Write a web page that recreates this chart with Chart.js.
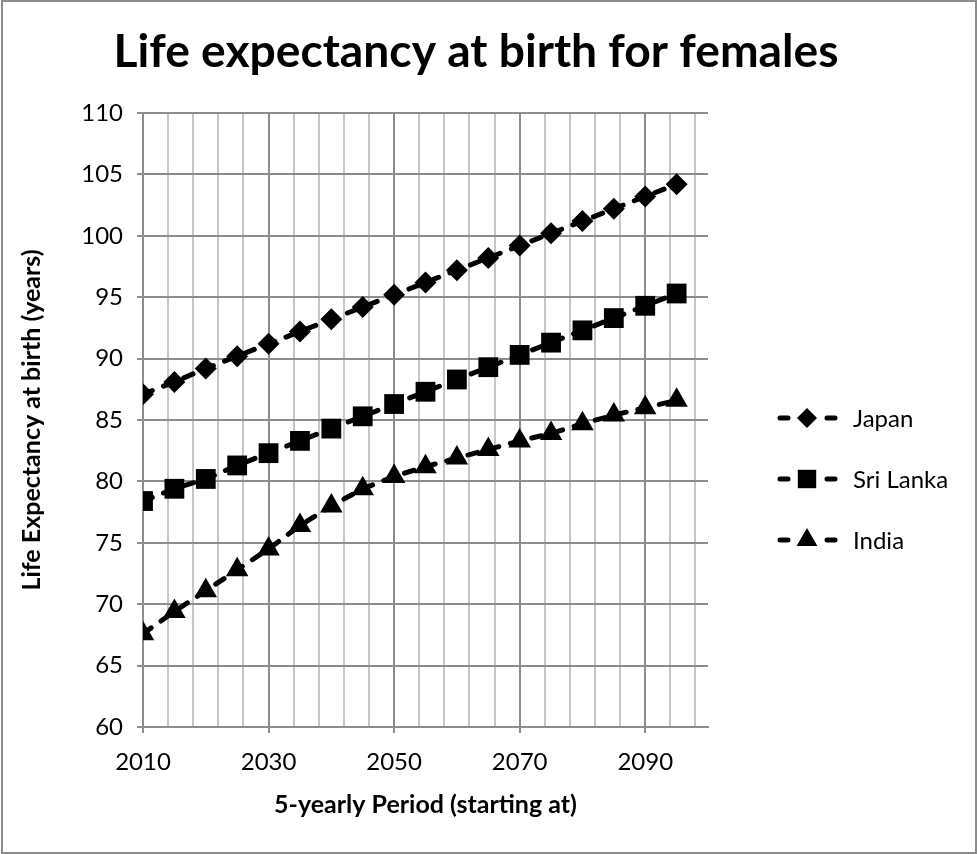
<!DOCTYPE html>
<html>
<head>
<meta charset="utf-8">
<script src="https://cdn.jsdelivr.net/npm/chart.js@4/dist/chart.umd.min.js"></script>
<style>
  html, body { margin: 0; padding: 0; background: #fff; }
  #wrap { width: 977px; height: 854px; }
</style>
</head>
<body>
<div id="wrap"><canvas id="chart" width="977" height="854"></canvas></div>
<script>
const years = [2010, 2015, 2020, 2025, 2030, 2035, 2040, 2045, 2050, 2055, 2060, 2065, 2070, 2075, 2080, 2085, 2090, 2095];
const japan = [87.1, 88.1, 89.2, 90.2, 91.2, 92.2, 93.2, 94.2, 95.2, 96.2, 97.2, 98.2, 99.2, 100.2, 101.2, 102.2, 103.2, 104.2];
const sriLanka = [78.4, 79.4, 80.2, 81.3, 82.3, 83.3, 84.3, 85.3, 86.3, 87.3, 88.3, 89.3, 90.3, 91.3, 92.3, 93.3, 94.3, 95.3];
const india = [67.6, 69.4, 71.1, 72.8, 74.5, 76.4, 78.0, 79.4, 80.4, 81.2, 81.9, 82.6, 83.3, 83.9, 84.7, 85.4, 86.0, 86.6];

const xTickLabels = [2010, 2030, 2050, 2070, 2090];
const xGridYears = [2010, 2014, 2018, 2022, 2026, 2030, 2034, 2038, 2042, 2046, 2050, 2054, 2058, 2062, 2066, 2070, 2074, 2078, 2082, 2086, 2090, 2094, 2098];
const yTicks = [60, 65, 70, 75, 80, 85, 90, 95, 100, 105, 110];

const titleText = 'Life expectancy at birth for females';

const majorGrid = '#8c8c8c';
const minorGrid = '#c6c6c6';
const tickFont = { family: 'Lato', size: 24 };
const axisTitleFont = { family: 'Lato', size: 25, weight: 'bold' };

function series(label, values, style, radius) {
  return {
    label: label,
    data: years.map((y, i) => ({ x: y, y: values[i] })),
    borderColor: '#000',
    backgroundColor: '#000',
    borderWidth: 5,
    borderDash: [10, 12],
    borderCapStyle: 'round',
    pointStyle: style,
    pointRadius: radius,
    pointHoverRadius: radius,
    pointBackgroundColor: '#000',
    pointBorderColor: '#000',
    pointBorderWidth: 0,
    tension: 0,
    fill: false
  };
}

// frame, title and the dashed legend on the right
const decor = {
  id: 'decor',
  beforeDraw(chart) {
    const ctx = chart.ctx;
    ctx.save();
    ctx.fillStyle = '#fff';
    ctx.fillRect(0, 0, chart.width, chart.height);
    ctx.strokeStyle = '#8c8c8c';
    ctx.lineWidth = 2;
    ctx.strokeRect(2, 1, 974, 852);
    ctx.restore();
  },
  afterDraw(chart) {
    const ctx = chart.ctx;
    ctx.save();
    ctx.fillStyle = '#000';
    ctx.font = 'bold 48px Lato';
    const size = 48 * 725 / ctx.measureText(titleText).width;
    ctx.font = 'bold ' + size + 'px Lato';
    ctx.textAlign = 'center';
    ctx.textBaseline = 'alphabetic';
    ctx.fillText(titleText, 476, 67);

    chart.data.datasets.forEach((ds, i) => {
      const y = 418 + i * 61;
      ctx.strokeStyle = '#000';
      ctx.lineWidth = 5;
      ctx.lineCap = 'round';
      ctx.beginPath();
      ctx.moveTo(780, y); ctx.lineTo(788, y);
      ctx.moveTo(827, y); ctx.lineTo(835, y);
      ctx.stroke();
      ctx.fillStyle = '#000';
      Chart.helpers.drawPoint(ctx, { pointStyle: ds.pointStyle, radius: ds.pointRadius - 1, borderWidth: 0, rotation: 0 }, 807, y);
      ctx.font = '24px Lato';
      ctx.textAlign = 'left';
      ctx.textBaseline = 'middle';
      ctx.fillText(ds.label, 853, y + 1);
    });
    ctx.restore();
  }
};

new Chart(document.getElementById('chart'), {
  type: 'line',
  data: {
    datasets: [
      series('Japan', japan, 'rectRot', 11),
      series('Sri Lanka', sriLanka, 'rect', 14),
      series('India', india, 'triangle', 13)
    ]
  },
  options: {
    responsive: false,
    animation: false,
    devicePixelRatio: 1,
    events: [],
    layout: { padding: { top: 113, right: 269, left: 0, bottom: 0 } },
    plugins: {
      legend: { display: false },
      title: { display: false },
      tooltip: { enabled: false }
    },
    scales: {
      x: {
        type: 'linear',
        min: 2010,
        max: 2100,
        afterBuildTicks: s => { s.ticks = xGridYears.map(v => ({ value: v })); },
        afterFit: s => { s.height = 127; },
        ticks: {
          autoSkip: false,
          maxRotation: 0,
          color: '#000',
          font: tickFont,
          padding: 15,
          callback: v => xTickLabels.includes(v) ? String(v) : ''
        },
        grid: {
          lineWidth: 2,
          tickLength: 6,
          color: c => (c.tick && xTickLabels.includes(c.tick.value)) ? majorGrid : minorGrid,
          tickColor: c => (c.tick && xTickLabels.includes(c.tick.value)) ? majorGrid : 'rgba(0,0,0,0)'
        },
        border: { color: majorGrid, width: 2 },
        title: {
          display: true,
          text: '5-yearly Period (starting at)',
          color: '#000',
          font: axisTitleFont,
          padding: { top: 0, bottom: 34 }
        }
      },
      y: {
        min: 60,
        max: 110,
        afterBuildTicks: s => { s.ticks = yTicks.map(v => ({ value: v })); },
        afterFit: s => { s.width = 143; },
        ticks: { color: '#000', font: tickFont, padding: 14 },
        grid: { lineWidth: 2, tickLength: 6, color: majorGrid, tickColor: majorGrid },
        border: { color: majorGrid, width: 2 },
        title: {
          display: true,
          text: 'Life Expectancy at birth (years)',
          color: '#000',
          font: axisTitleFont,
          padding: { top: 17, bottom: 0 }
        }
      }
    }
  },
  plugins: [decor]
});
</script>
</body>
</html>
